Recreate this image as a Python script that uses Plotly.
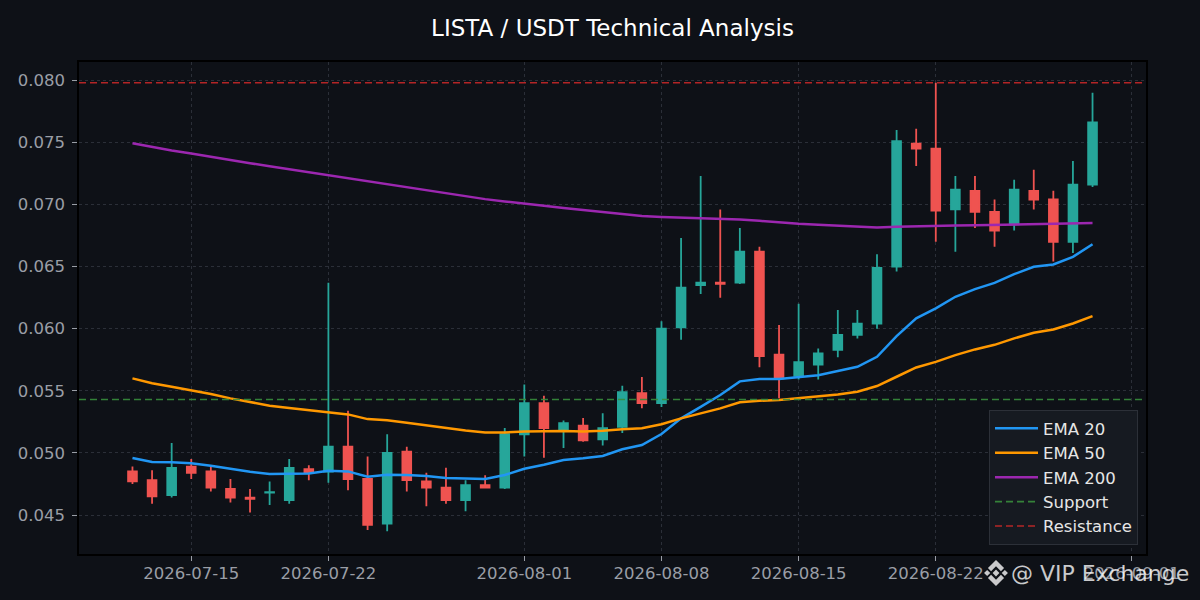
import pandas as pd
import plotly.graph_objects as go

# Data (daily candles)
dates = pd.date_range("2026-07-12", "2026-08-30", freq="D")

open_ = [0.0485, 0.0478, 0.0466, 0.0489, 0.0485, 0.0471, 0.0464, 0.04680, 0.0462, 0.0487,
         0.0485, 0.0505, 0.0479, 0.0443, 0.0501, 0.0477, 0.0472, 0.0462, 0.0474, 0.0472,
         0.0515, 0.0540, 0.0519, 0.0522, 0.0511, 0.0521, 0.0548, 0.0540, 0.0601, 0.0635,
         0.0637, 0.0637, 0.0662, 0.0579, 0.0562, 0.0571, 0.0583, 0.0595, 0.0604, 0.0650,
         0.0749, 0.0745, 0.0696, 0.0711, 0.0694, 0.0684, 0.0711, 0.0704, 0.0670, 0.0716]
high = [0.0489, 0.0486, 0.0508, 0.0495, 0.0489, 0.0479, 0.0471, 0.0477, 0.0495, 0.0490,
        0.0637, 0.0534, 0.0497, 0.0515, 0.0505, 0.0484, 0.0488, 0.0478, 0.0482, 0.0520,
        0.0555, 0.0546, 0.0526, 0.0528, 0.0532, 0.0554, 0.0561, 0.0606, 0.0673, 0.0723,
        0.0696, 0.0681, 0.0666, 0.0603, 0.0620, 0.0584, 0.0615, 0.0615, 0.0660, 0.0760,
        0.0761, 0.0798, 0.0723, 0.0723, 0.0704, 0.0720, 0.0728, 0.0711, 0.0735, 0.0790]
low = [0.0475, 0.0459, 0.0464, 0.0479, 0.0469, 0.0460, 0.0452, 0.0458, 0.0459, 0.0478,
       0.0476, 0.0470, 0.0438, 0.0437, 0.0469, 0.0457, 0.0459, 0.0453, 0.0472, 0.0471,
       0.0497, 0.0496, 0.0504, 0.0509, 0.0506, 0.0516, 0.0536, 0.0537, 0.0591, 0.0628,
       0.0625, 0.0636, 0.0569, 0.0544, 0.0559, 0.0559, 0.0577, 0.0592, 0.0600, 0.0646,
       0.0731, 0.0670, 0.0662, 0.0681, 0.0666, 0.0679, 0.0696, 0.0654, 0.0661, 0.0714]
close = [0.0477, 0.0465, 0.0488, 0.0484, 0.0472, 0.0464, 0.0463, 0.04683, 0.0488, 0.0484,
         0.0505, 0.0479, 0.0442, 0.0500, 0.0478, 0.0472, 0.0462, 0.0474, 0.0472, 0.0515,
         0.0540, 0.0520, 0.0524, 0.0510, 0.0520, 0.0549, 0.0540, 0.0600, 0.0633, 0.0637,
         0.0636, 0.0662, 0.0578, 0.0560, 0.0573, 0.0580, 0.0595, 0.0604, 0.0649, 0.0751,
         0.0745, 0.0695, 0.0712, 0.0694, 0.0679, 0.0712, 0.0704, 0.0670, 0.0716, 0.0766]

ema20 = [0.04959, 0.04926, 0.04924, 0.04916, 0.04897, 0.04872, 0.04848, 0.04830, 0.04832, 0.04835,
         0.04856, 0.04851, 0.04808, 0.04824, 0.04822, 0.04814, 0.04798, 0.04792, 0.04790, 0.04822,
         0.04872, 0.04905, 0.04943, 0.04957, 0.04975, 0.05029, 0.05063, 0.05152, 0.05278, 0.05371,
         0.05466, 0.05576, 0.05594, 0.05594, 0.05608, 0.05626, 0.05659, 0.05693, 0.05774, 0.05940,
         0.06083, 0.06163, 0.06257, 0.06318, 0.06369, 0.06439, 0.06498, 0.06517, 0.06578, 0.06680]
ema50 = [0.05600, 0.05560, 0.05532, 0.05506, 0.05474, 0.05439, 0.05407, 0.05380, 0.05361, 0.05342,
         0.05329, 0.05310, 0.05272, 0.05262, 0.05243, 0.05222, 0.05200, 0.05181, 0.05165, 0.05165,
         0.05173, 0.05176, 0.05176, 0.05173, 0.05178, 0.05190, 0.05198, 0.05230, 0.05278, 0.05318,
         0.05358, 0.05407, 0.05420, 0.05425, 0.05439, 0.05452, 0.05471, 0.05492, 0.05538, 0.05613,
         0.05688, 0.05733, 0.05787, 0.05833, 0.05870, 0.05922, 0.05967, 0.05994, 0.06042, 0.06101]
ema200 = [0.07493, 0.07463, 0.07434, 0.07410, 0.07383, 0.07359, 0.07332, 0.07308, 0.07284, 0.07260,
          0.07238, 0.07211, 0.07185, 0.07163, 0.07137, 0.07115, 0.07091, 0.07067, 0.07043, 0.07024,
          0.07010, 0.06990, 0.06972, 0.06955, 0.06936, 0.06922, 0.06908, 0.06900, 0.06895, 0.06890,
          0.06884, 0.06879, 0.06868, 0.06855, 0.06844, 0.06836, 0.06828, 0.06820, 0.06815, 0.06820,
          0.06825, 0.06828, 0.06831, 0.06833, 0.06836, 0.06839, 0.06839, 0.06839, 0.06844, 0.06850]

support = 0.0543
resistance = 0.0798

x_ticks = ["2026-07-15", "2026-07-22", "2026-08-01", "2026-08-08", "2026-08-15", "2026-08-22", "2026-09-01"]
y_ticks = [0.045, 0.050, 0.055, 0.060, 0.065, 0.070, 0.075, 0.080]
x_range = ["2026-07-09 06:30", "2026-09-01 17:30"]
y_range = [0.04186, 0.08147]

# Colours
BG = "#0e1117"
GREEN = "#26a69a"
RED = "#ef5350"
TICK_COL = "#9a9ea6"
GRID_COL = "#2b2f38"
FONT = "DejaVu Sans"

fig = go.Figure()

fig.add_trace(go.Candlestick(
    x=dates, open=open_, high=high, low=low, close=close,
    increasing=dict(line=dict(color=GREEN, width=1.8), fillcolor=GREEN),
    decreasing=dict(line=dict(color=RED, width=1.8), fillcolor=RED),
    whiskerwidth=0, showlegend=False, name="LISTA/USDT"))

fig.add_trace(go.Scatter(x=dates, y=ema20, mode="lines", name="EMA 20",
                         line=dict(color="#2196f3", width=2.5)))
fig.add_trace(go.Scatter(x=dates, y=ema50, mode="lines", name="EMA 50",
                         line=dict(color="#ff9800", width=2.5)))
fig.add_trace(go.Scatter(x=dates, y=ema200, mode="lines", name="EMA 200",
                         line=dict(color="#9c27b0", width=2.5)))
fig.add_trace(go.Scatter(x=x_range, y=[support, support], mode="lines", name="Support",
                         line=dict(color="#388e3c", width=1.6, dash="7px,4px"), opacity=0.9))
fig.add_trace(go.Scatter(x=x_range, y=[resistance, resistance], mode="lines", name="Resistance",
                         line=dict(color="#c62828", width=1.6, dash="7px,4px"), opacity=0.9))

# plot area in pixels (1200x600 canvas)
L, R, T, B = 79, 1146, 62, 554

axis_common = dict(
    showgrid=True, gridcolor=GRID_COL, griddash="dot", gridwidth=1,
    showline=True, linecolor="#000000", linewidth=1.5, mirror=True,
    ticks="outside", ticklen=5, tickwidth=1, tickcolor=TICK_COL,
    tickfont=dict(family=FONT, size=16.5, color=TICK_COL),
    zeroline=False,
)

fig.update_xaxes(range=x_range, tickvals=x_ticks, ticktext=x_ticks,
                 rangeslider_visible=False, ticklabelstandoff=-2, **axis_common)
fig.update_yaxes(range=y_range, tickvals=y_ticks,
                 ticktext=[f"{v:.3f}" for v in y_ticks], ticklabelstandoff=4, **axis_common)

fig.update_layout(
    width=1200, height=600,
    paper_bgcolor=BG, plot_bgcolor=BG,
    margin=dict(l=L, r=1200 - R, t=T, b=600 - B),
    boxgap=0.36,
    title=dict(text="LISTA / USDT Technical Analysis", x=0.5, xref="paper",
               y=1 - 28 / 600, yanchor="middle",
               font=dict(family=FONT, size=23, color="#ffffff")),
    legend=dict(x=(1138 - L) / (R - L), y=(B - 545) / (B - T), xanchor="right", yanchor="bottom",
                bgcolor="#161a21", bordercolor="#2c3038", borderwidth=1, itemwidth=43,
                font=dict(family=FONT, size=16.5, color="#e6e6e6")),
    font=dict(family=FONT),
)

# Watermark: Binance-style logo + text
def to_paper(px, py):
    return (px - L) / (R - L), (B - py) / (B - T)

logo_cx, logo_cy, logo_s = 996, 573, 13
logo_polys = [
    [(0, 0.26), (0.26, 0), (0, -0.26), (-0.26, 0)],
    [(0.68, 0.24), (0.92, 0), (0.68, -0.24), (0.44, 0)],
    [(-0.68, 0.24), (-0.44, 0), (-0.68, -0.24), (-0.92, 0)],
    [(0, 1), (0.62, 0.38), (0.38, 0.14), (0, 0.52), (-0.38, 0.14), (-0.62, 0.38)],
    [(0, -1), (0.62, -0.38), (0.38, -0.14), (0, -0.52), (-0.38, -0.14), (-0.62, -0.38)],
]
for poly in logo_polys:
    pts = [to_paper(logo_cx + u * logo_s, logo_cy - v * logo_s) for u, v in poly]
    path = "M " + " L ".join(f"{x:.5f},{y:.5f}" for x, y in pts) + " Z"
    fig.add_shape(type="path", path=path, xref="paper", yref="paper",
                  fillcolor="rgba(255,255,255,0.78)", line=dict(width=0), layer="above")

wx, wy = to_paper(1191, 573)
fig.add_annotation(text="@ VIP Exchange", xref="paper", yref="paper", x=wx, y=wy,
                   xanchor="right", yanchor="middle", showarrow=False,
                   font=dict(family=FONT, size=22, color="rgba(255,255,255,0.78)"))

# page has a default 8px body margin, drop it so the figure sits at 0,0
fig.write_html("out.html", config={"displayModeBar": False},
               post_script="document.body.style.margin='0px';")
